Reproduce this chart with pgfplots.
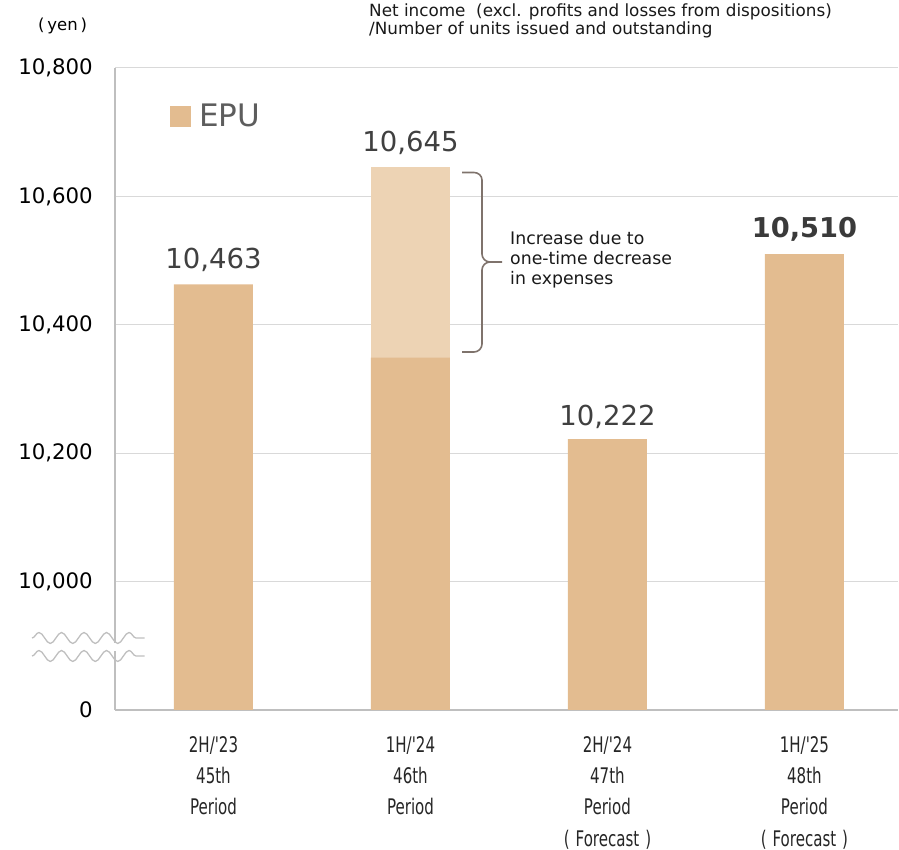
\documentclass[border=0pt]{standalone}
\usepackage{fontspec}
\setmainfont{DejaVu Sans}
\newfontfamily\condfont[FakeStretch=0.7]{DejaVu Sans}
\usepackage{pgfplots}
\pgfplotsset{compat=1.18}
\usetikzlibrary{decorations.pathmorphing}
\definecolor{barc}{HTML}{E3BC90}
\definecolor{barl}{HTML}{EDD3B4}
\definecolor{gridc}{HTML}{D9D9D9}
\definecolor{axc}{HTML}{BFBFBF}
\definecolor{lblc}{HTML}{404040}
\definecolor{bracec}{HTML}{7F736C}
\begin{document}
\begin{tikzpicture}[x=1bp,y=1bp]
\useasboundingbox (0,0) rectangle (899,850);
\begin{axis}[
  at={(115bp,140bp)}, anchor=south west,
  scale only axis, width=783bp, height=642bp,
  xmin=-0.5, xmax=3.475, ymin=9800, ymax=10800,
  ybar, bar width=79bp, bar shift=0pt,
  axis x line*=bottom, axis y line*=left,
  axis line style={draw=axc, line width=1.2pt},
  ytick={9800,10000,10200,10400,10600,10800},
  yticklabels={0,{10,000},{10,200},{10,400},{10,600},{10,800}},
  scaled y ticks=false,
  major tick length=0pt,
  ymajorgrids, grid style={draw=gridc, line width=1pt},
  xtick={0,1,2,3},
  xticklabels={{2H/'23\\45th\\Period},{1H/'24\\46th\\Period},{2H/'24\\47th\\Period\\(\;Forecast\;)},{1H/'25\\48th\\Period\\(\;Forecast\;)}},
  xticklabel style={font=\condfont\fontsize{21.5bp}{31.3bp}\selectfont, text=black!85, align=center, anchor=north, inner sep=0pt, yshift=-26bp},
  yticklabel style={font=\fontsize{21.3bp}{24bp}\selectfont, text=black, anchor=east, inner sep=0pt, xshift=-22bp},
  /pgf/number format/assume math mode=true,
  clip=true,
]
\addplot[fill=barl, draw=none] coordinates {(1,10645)};
\addplot[fill=barc, draw=none] coordinates {(0,10463) (1,10349) (2,10222) (3,10510)};
\node[anchor=base, text=lblc, font=\fontsize{27.5bp}{30bp}\selectfont, yshift=16bp] at (axis cs:0,10463) {10,463};
\node[anchor=base, text=lblc, font=\fontsize{27.5bp}{30bp}\selectfont, yshift=16bp] at (axis cs:1,10645) {10,645};
\node[anchor=base, text=lblc, font=\fontsize{27.5bp}{30bp}\selectfont, yshift=14bp] at (axis cs:2,10222) {10,222};
\node[anchor=base, text=lblc!90!black, font=\bfseries\fontsize{27.3bp}{30bp}\selectfont, yshift=17bp] at (axis cs:3,10510) {10,510};
\end{axis}
% legend
\fill[barc] (170,723) rectangle (191,744);
\node[anchor=base west, inner sep=0pt, text=lblc!85!white, font=\fontsize{31bp}{33bp}\selectfont] at (199,723) {EPU};
% top notes
\node[anchor=west, inner sep=0pt, font=\fontsize{16.5bp}{18bp}\selectfont] at (38,824) {(\,yen\,)};
\node[anchor=north west, inner sep=0pt, align=left, font=\fontsize{16.8bp}{18bp}\selectfont, text=black!90] at (369,846.5) {Net income\ \ (excl. profits and losses from dispositions)\\/Number of units issued and outstanding};
% annotation
\node[anchor=west, inner sep=0pt, align=left, font=\fontsize{17.3bp}{20bp}\selectfont, text=black!90] at (510,590) {Increase due to\\one-time decrease\\in expenses};
\draw[bracec, line width=1.6pt] (462,677.5) -- (474,677.5) to[out=0,in=90] (482,670) -- (482,596) to[out=-90,in=180] (490,588) -- (502,588);
\draw[bracec, line width=1.6pt] (490,588) to[out=180,in=90] (482,580) -- (482,506) to[out=-90,in=0] (474,498) -- (462,498);
% axis break
\fill[white] (108,199) rectangle (122,207);
\draw[axc, line width=1.3pt, decorate, decoration={snake, amplitude=5.5bp, segment length=22.5bp}] (32,212) -- (144.5,212);
\draw[axc, line width=1.3pt, decorate, decoration={snake, amplitude=5.5bp, segment length=22.5bp}] (32,194) -- (144.5,194);
\end{tikzpicture}
\end{document}
